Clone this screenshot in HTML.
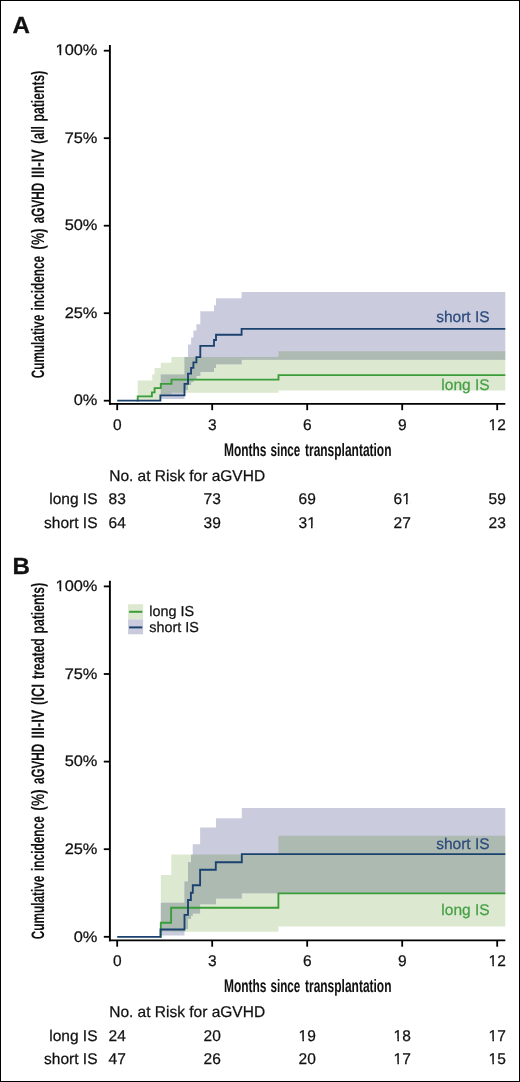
<!DOCTYPE html>
<html><head><meta charset="utf-8"><style>
html,body{margin:0;padding:0;background:#fff;}
body{width:520px;height:1082px;overflow:hidden;}
svg{display:block;will-change:transform;text-rendering:geometricPrecision;font-family:"Liberation Sans",sans-serif;}
</style></head><body>
<svg width="520" height="1082" viewBox="0 0 520 1082">
<rect x="0" y="0" width="520" height="1082" fill="#fff"/>
<g fill="#111">
<clipPath id="clipA"><path d="M137.7,380.4H152.3V400.7H137.7ZM152.3,374.2H154.6V400.7H152.3ZM154.6,368.0H160.8V400.7H154.6ZM160.8,362.7H171.5V394.5H160.8ZM171.5,356.9H278.5V392.7H171.5ZM278.5,351.3H505.3V390.6H278.5Z"/></clipPath>
<path d="M137.7,380.4H152.3V400.7H137.7ZM152.3,374.2H154.6V400.7H152.3ZM154.6,368.0H160.8V400.7H154.6ZM160.8,362.7H171.5V394.5H160.8ZM171.5,356.9H278.5V392.7H171.5ZM278.5,351.3H505.3V390.6H278.5Z" fill="#dce9d0"/><path d="M160.8,374.6H184.5V399.0H160.8ZM184.5,357.0H188.0V390.0H184.5ZM188.0,344.4H191.1V385.0H188.0ZM191.1,337.5H193.4V382.0H191.1ZM193.4,330.6H196.4V379.0H193.4ZM196.4,324.2H200.3V376.0H196.4ZM200.3,311.3H214.0V372.0H200.3ZM214.0,305.2H216.0V368.0H214.0ZM216.0,298.2H241.6V364.2H216.0ZM241.6,291.9H505.3V359.8H241.6Z" fill="#cbcbde"/><path d="M160.8,374.6H184.5V399.0H160.8ZM184.5,357.0H188.0V390.0H184.5ZM188.0,344.4H191.1V385.0H188.0ZM191.1,337.5H193.4V382.0H191.1ZM193.4,330.6H196.4V379.0H193.4ZM196.4,324.2H200.3V376.0H196.4ZM200.3,311.3H214.0V372.0H200.3ZM214.0,305.2H216.0V368.0H214.0ZM216.0,298.2H241.6V364.2H216.0ZM241.6,291.9H505.3V359.8H241.6Z" fill="#acbab2" clip-path="url(#clipA)"/>
<path d="M136.7,400.6H137.7V396.4H151.9V392.3H154.6V388.1H160.8V383.9H171.5V379.6H278.5V375.1H505.3" fill="none" stroke="#3a9d3a" stroke-width="1.85"/>
<path d="M117.2,400.6H160.4V395.3H184.5V383.8H188.0V373.6H191.1V367.9H193.4V362.4H196.4V357.1H200.3V345.8H214.0V340.0H216.0V334.7H241.6V328.9H505.3" fill="none" stroke="#1b426f" stroke-width="1.85"/>
<path d="M109.9,45.0V404.7" stroke="#000" stroke-width="1.9" fill="none"/>
<path d="M109,403.9H505.3" stroke="#000" stroke-width="1.7" fill="none"/>
<path d="M103.8,400.7H110" stroke="#000" stroke-width="1.8"/>
<text transform="translate(97.4,405.40) scale(1.07,1)" text-anchor="end" font-size="15.3" stroke="#111" stroke-width="0.25">0%</text>
<path d="M103.8,313.2H110" stroke="#000" stroke-width="1.8"/>
<text transform="translate(97.4,317.90) scale(1.07,1)" text-anchor="end" font-size="15.3" stroke="#111" stroke-width="0.25">25%</text>
<path d="M103.8,225.7H110" stroke="#000" stroke-width="1.8"/>
<text transform="translate(97.4,230.40) scale(1.07,1)" text-anchor="end" font-size="15.3" stroke="#111" stroke-width="0.25">50%</text>
<path d="M103.8,138.2H110" stroke="#000" stroke-width="1.8"/>
<text transform="translate(97.4,142.90) scale(1.07,1)" text-anchor="end" font-size="15.3" stroke="#111" stroke-width="0.25">75%</text>
<path d="M103.8,50.7H110" stroke="#000" stroke-width="1.8"/>
<text transform="translate(97.4,55.40) scale(1.07,1)" text-anchor="end" font-size="15.3" stroke="#111" stroke-width="0.25">100%</text>
<path d="M117.2,403.9V410.2" stroke="#000" stroke-width="1.8"/>
<text x="117.2" y="429.8" text-anchor="middle" font-size="15.5" stroke="#111" stroke-width="0.25">0</text>
<path d="M212.2,403.9V410.2" stroke="#000" stroke-width="1.8"/>
<text x="212.2" y="429.8" text-anchor="middle" font-size="15.5" stroke="#111" stroke-width="0.25">3</text>
<path d="M307.2,403.9V410.2" stroke="#000" stroke-width="1.8"/>
<text x="307.2" y="429.8" text-anchor="middle" font-size="15.5" stroke="#111" stroke-width="0.25">6</text>
<path d="M402.2,403.9V410.2" stroke="#000" stroke-width="1.8"/>
<text x="402.2" y="429.8" text-anchor="middle" font-size="15.5" stroke="#111" stroke-width="0.25">9</text>
<path d="M497.2,403.9V410.2" stroke="#000" stroke-width="1.8"/>
<text x="497.2" y="429.8" text-anchor="middle" font-size="15.5" stroke="#111" stroke-width="0.25">12</text>
<g transform="translate(0,455.79999999999995)"><text x="223.93" y="0" font-size="18.0" font-weight="bold" textLength="42.47" lengthAdjust="spacingAndGlyphs" stroke="#111" stroke-width="0.05">Months</text><text x="270.47" y="0" font-size="18.0" font-weight="bold" textLength="29.81" lengthAdjust="spacingAndGlyphs" stroke="#111" stroke-width="0.05">since</text><text x="304.99" y="0" font-size="18.0" font-weight="bold" textLength="86.52" lengthAdjust="spacingAndGlyphs" stroke="#111" stroke-width="0.05">transplantation</text></g>
<g transform="translate(43.9,0) rotate(-90)"><text x="-378.33" y="0" font-size="18.0" font-weight="bold" textLength="63.52" lengthAdjust="spacingAndGlyphs" stroke="#111" stroke-width="0.05">Cumulative</text><text x="-310.43" y="0" font-size="18.0" font-weight="bold" textLength="54.62" lengthAdjust="spacingAndGlyphs" stroke="#111" stroke-width="0.05">incidence</text><text x="-249.66" y="0" font-size="18.0" font-weight="bold" textLength="21.21" lengthAdjust="spacingAndGlyphs" stroke="#111" stroke-width="0.05">(%)</text><text x="-223.20" y="0" font-size="18.0" font-weight="bold" textLength="40.34" lengthAdjust="spacingAndGlyphs" stroke="#111" stroke-width="0.05">aGVHD</text><text x="-177.97" y="0" font-size="18.0" font-weight="bold" textLength="28.43" lengthAdjust="spacingAndGlyphs" stroke="#111" stroke-width="0.05">III-IV</text><text x="-143.69" y="0" font-size="18.0" font-weight="bold" textLength="17.65" lengthAdjust="spacingAndGlyphs" stroke="#111" stroke-width="0.05">(all</text><text x="-121.49" y="0" font-size="18.0" font-weight="bold" textLength="50.78" lengthAdjust="spacingAndGlyphs" stroke="#111" stroke-width="0.05">patients)</text></g>
<text x="12.6" y="32.9" font-size="23.3" font-weight="bold" stroke="#111" stroke-width="0.3" textLength="17.4" lengthAdjust="spacingAndGlyphs">A</text>
<text x="109.2" y="480.8" font-size="15.5" stroke="#111" stroke-width="0.25">No. at Risk for aGVHD</text>
<text x="97.5" y="504.0" text-anchor="end" font-size="15.5" stroke="#111" stroke-width="0.25">long IS</text>
<text x="117.2" y="504.0" text-anchor="middle" font-size="15.5" stroke="#111" stroke-width="0.25">83</text>
<text x="212.2" y="504.0" text-anchor="middle" font-size="15.5" stroke="#111" stroke-width="0.25">73</text>
<text x="307.2" y="504.0" text-anchor="middle" font-size="15.5" stroke="#111" stroke-width="0.25">69</text>
<text x="402.2" y="504.0" text-anchor="middle" font-size="15.5" stroke="#111" stroke-width="0.25">61</text>
<text x="497.2" y="504.0" text-anchor="middle" font-size="15.5" stroke="#111" stroke-width="0.25">59</text>
<text x="97.5" y="527.9" text-anchor="end" font-size="15.5" stroke="#111" stroke-width="0.25">short IS</text>
<text x="117.2" y="527.9" text-anchor="middle" font-size="15.5" stroke="#111" stroke-width="0.25">64</text>
<text x="212.2" y="527.9" text-anchor="middle" font-size="15.5" stroke="#111" stroke-width="0.25">39</text>
<text x="307.2" y="527.9" text-anchor="middle" font-size="15.5" stroke="#111" stroke-width="0.25">31</text>
<text x="402.2" y="527.9" text-anchor="middle" font-size="15.5" stroke="#111" stroke-width="0.25">27</text>
<text x="497.2" y="527.9" text-anchor="middle" font-size="15.5" stroke="#111" stroke-width="0.25">23</text>
<text x="489.6" y="322.4" text-anchor="end" font-size="15.5" fill="#2c4a7c" stroke="#2c4a7c" stroke-width="0.25">short IS</text>
<text x="489.6" y="390.4" text-anchor="end" font-size="15.5" fill="#46a046" stroke="#46a046" stroke-width="0.25">long IS</text>
<clipPath id="clipB"><path d="M160.8,875.0H171.3V931.5H160.8ZM171.3,854.5H278.4V931.8H171.3ZM278.4,835.8H505.3V926.4H278.4Z"/></clipPath>
<path d="M160.8,875.0H171.3V931.5H160.8ZM171.3,854.5H278.4V931.8H171.3ZM278.4,835.8H505.3V926.4H278.4Z" fill="#dce9d0"/><path d="M160.8,902.8H184.5V935.5H160.8ZM184.5,881.6H188.0V929.0H184.5ZM188.0,862.3H191.0V919.0H188.0ZM191.0,854.8H192.7V916.0H191.0ZM192.7,844.2H200.1V913.6H192.7ZM200.1,827.4H216.0V904.3H200.1ZM216.0,818.3H241.8V898.5H216.0ZM241.8,808.1H505.3V893.2H241.8Z" fill="#cbcbde"/><path d="M160.8,902.8H184.5V935.5H160.8ZM184.5,881.6H188.0V929.0H184.5ZM188.0,862.3H191.0V919.0H188.0ZM191.0,854.8H192.7V916.0H191.0ZM192.7,844.2H200.1V913.6H192.7ZM200.1,827.4H216.0V904.3H200.1ZM216.0,818.3H241.8V898.5H216.0ZM241.8,808.1H505.3V893.2H241.8Z" fill="#acbab2" clip-path="url(#clipB)"/>
<path d="M159.8,936.8H160.8V922.7H171.1V907.7H278.4V893.3H505.3" fill="none" stroke="#3a9d3a" stroke-width="1.85"/>
<path d="M117.2,936.8H160.5V929.5H184.5V914.8H188.0V900.0H190.9V892.7H192.8V885.2H200.1V869.7H215.8V862.2H241.8V854.1H505.3" fill="none" stroke="#1b426f" stroke-width="1.85"/>
<path d="M109.9,580.6999999999999V941.1999999999999" stroke="#000" stroke-width="1.9" fill="none"/>
<path d="M109,940.4H505.3" stroke="#000" stroke-width="1.7" fill="none"/>
<path d="M103.8,936.8H110" stroke="#000" stroke-width="1.8"/>
<text transform="translate(97.4,941.50) scale(1.07,1)" text-anchor="end" font-size="15.3" stroke="#111" stroke-width="0.25">0%</text>
<path d="M103.8,849.2H110" stroke="#000" stroke-width="1.8"/>
<text transform="translate(97.4,853.90) scale(1.07,1)" text-anchor="end" font-size="15.3" stroke="#111" stroke-width="0.25">25%</text>
<path d="M103.8,761.6H110" stroke="#000" stroke-width="1.8"/>
<text transform="translate(97.4,766.30) scale(1.07,1)" text-anchor="end" font-size="15.3" stroke="#111" stroke-width="0.25">50%</text>
<path d="M103.8,674.0H110" stroke="#000" stroke-width="1.8"/>
<text transform="translate(97.4,678.70) scale(1.07,1)" text-anchor="end" font-size="15.3" stroke="#111" stroke-width="0.25">75%</text>
<path d="M103.8,586.4H110" stroke="#000" stroke-width="1.8"/>
<text transform="translate(97.4,591.10) scale(1.07,1)" text-anchor="end" font-size="15.3" stroke="#111" stroke-width="0.25">100%</text>
<path d="M117.2,940.4V946.6999999999999" stroke="#000" stroke-width="1.8"/>
<text x="117.2" y="966.3" text-anchor="middle" font-size="15.5" stroke="#111" stroke-width="0.25">0</text>
<path d="M212.2,940.4V946.6999999999999" stroke="#000" stroke-width="1.8"/>
<text x="212.2" y="966.3" text-anchor="middle" font-size="15.5" stroke="#111" stroke-width="0.25">3</text>
<path d="M307.2,940.4V946.6999999999999" stroke="#000" stroke-width="1.8"/>
<text x="307.2" y="966.3" text-anchor="middle" font-size="15.5" stroke="#111" stroke-width="0.25">6</text>
<path d="M402.2,940.4V946.6999999999999" stroke="#000" stroke-width="1.8"/>
<text x="402.2" y="966.3" text-anchor="middle" font-size="15.5" stroke="#111" stroke-width="0.25">9</text>
<path d="M497.2,940.4V946.6999999999999" stroke="#000" stroke-width="1.8"/>
<text x="497.2" y="966.3" text-anchor="middle" font-size="15.5" stroke="#111" stroke-width="0.25">12</text>
<g transform="translate(0,992.3)"><text x="223.93" y="0" font-size="18.0" font-weight="bold" textLength="42.47" lengthAdjust="spacingAndGlyphs" stroke="#111" stroke-width="0.05">Months</text><text x="270.47" y="0" font-size="18.0" font-weight="bold" textLength="29.81" lengthAdjust="spacingAndGlyphs" stroke="#111" stroke-width="0.05">since</text><text x="304.99" y="0" font-size="18.0" font-weight="bold" textLength="86.52" lengthAdjust="spacingAndGlyphs" stroke="#111" stroke-width="0.05">transplantation</text></g>
<g transform="translate(43.9,0) rotate(-90)"><text x="-939.23" y="0" font-size="18.0" font-weight="bold" textLength="63.62" lengthAdjust="spacingAndGlyphs" stroke="#111" stroke-width="0.05">Cumulative</text><text x="-871.03" y="0" font-size="18.0" font-weight="bold" textLength="54.83" lengthAdjust="spacingAndGlyphs" stroke="#111" stroke-width="0.05">incidence</text><text x="-810.66" y="0" font-size="18.0" font-weight="bold" textLength="21.32" lengthAdjust="spacingAndGlyphs" stroke="#111" stroke-width="0.05">(%)</text><text x="-784.00" y="0" font-size="18.0" font-weight="bold" textLength="40.24" lengthAdjust="spacingAndGlyphs" stroke="#111" stroke-width="0.05">aGVHD</text><text x="-738.47" y="0" font-size="18.0" font-weight="bold" textLength="28.43" lengthAdjust="spacingAndGlyphs" stroke="#111" stroke-width="0.05">III-IV</text><text x="-704.93" y="0" font-size="18.0" font-weight="bold" textLength="20.97" lengthAdjust="spacingAndGlyphs" stroke="#111" stroke-width="0.05">(ICI</text><text x="-679.01" y="0" font-size="18.0" font-weight="bold" textLength="40.82" lengthAdjust="spacingAndGlyphs" stroke="#111" stroke-width="0.05">treated</text><text x="-633.49" y="0" font-size="18.0" font-weight="bold" textLength="50.67" lengthAdjust="spacingAndGlyphs" stroke="#111" stroke-width="0.05">patients)</text></g>
<text x="12.6" y="574.3" font-size="23.3" font-weight="bold" stroke="#111" stroke-width="0.3" textLength="17.4" lengthAdjust="spacingAndGlyphs">B</text>
<text x="109.2" y="1016.9" font-size="15.5" stroke="#111" stroke-width="0.25">No. at Risk for aGVHD</text>
<text x="97.5" y="1040.8" text-anchor="end" font-size="15.5" stroke="#111" stroke-width="0.25">long IS</text>
<text x="117.2" y="1040.8" text-anchor="middle" font-size="15.5" stroke="#111" stroke-width="0.25">24</text>
<text x="212.2" y="1040.8" text-anchor="middle" font-size="15.5" stroke="#111" stroke-width="0.25">20</text>
<text x="307.2" y="1040.8" text-anchor="middle" font-size="15.5" stroke="#111" stroke-width="0.25">19</text>
<text x="402.2" y="1040.8" text-anchor="middle" font-size="15.5" stroke="#111" stroke-width="0.25">18</text>
<text x="497.2" y="1040.8" text-anchor="middle" font-size="15.5" stroke="#111" stroke-width="0.25">17</text>
<text x="97.5" y="1064.0" text-anchor="end" font-size="15.5" stroke="#111" stroke-width="0.25">short IS</text>
<text x="117.2" y="1064.0" text-anchor="middle" font-size="15.5" stroke="#111" stroke-width="0.25">47</text>
<text x="212.2" y="1064.0" text-anchor="middle" font-size="15.5" stroke="#111" stroke-width="0.25">26</text>
<text x="307.2" y="1064.0" text-anchor="middle" font-size="15.5" stroke="#111" stroke-width="0.25">20</text>
<text x="402.2" y="1064.0" text-anchor="middle" font-size="15.5" stroke="#111" stroke-width="0.25">17</text>
<text x="497.2" y="1064.0" text-anchor="middle" font-size="15.5" stroke="#111" stroke-width="0.25">15</text>
<text x="489.6" y="849.3" text-anchor="end" font-size="15.5" fill="#2c4a7c" stroke="#2c4a7c" stroke-width="0.25">short IS</text>
<text x="489.6" y="914.6" text-anchor="end" font-size="15.5" fill="#46a046" stroke="#46a046" stroke-width="0.25">long IS</text>
<rect x="128.1" y="604.2" width="15" height="14.8" fill="#dce9d0"/>
<rect x="128.1" y="619.3" width="15" height="15" fill="#cbcbde"/>
<path d="M129.1,611.8H142.3" stroke="#3a9d3a" stroke-width="2"/>
<path d="M129.1,627.4H142.3" stroke="#1b426f" stroke-width="2"/>
<text x="149.3" y="616.2" font-size="14.4" stroke="#111" stroke-width="0.25">long IS</text>
<text x="149.3" y="631.8" font-size="14.4" stroke="#111" stroke-width="0.25">short IS</text>
</g>
<rect x="56.08" y="53.00" width="3.47" height="3.00" fill="#fff"/><rect x="61.19" y="53.00" width="3.34" height="3.00" fill="#fff"/><rect x="489.06" y="428.00" width="3.32" height="3.00" fill="#fff"/><rect x="493.95" y="428.00" width="3.20" height="3.00" fill="#fff"/><rect x="402.68" y="502.00" width="3.32" height="3.00" fill="#fff"/><rect x="407.57" y="502.00" width="3.20" height="3.00" fill="#fff"/><rect x="307.68" y="526.00" width="3.32" height="3.00" fill="#fff"/><rect x="312.57" y="526.00" width="3.20" height="3.00" fill="#fff"/><rect x="56.08" y="589.00" width="3.47" height="3.00" fill="#fff"/><rect x="61.19" y="589.00" width="3.34" height="3.00" fill="#fff"/><rect x="489.06" y="964.00" width="3.32" height="3.00" fill="#fff"/><rect x="493.95" y="964.00" width="3.20" height="3.00" fill="#fff"/><rect x="299.06" y="1039.00" width="3.32" height="3.00" fill="#fff"/><rect x="303.95" y="1039.00" width="3.20" height="3.00" fill="#fff"/><rect x="394.06" y="1039.00" width="3.32" height="3.00" fill="#fff"/><rect x="398.95" y="1039.00" width="3.20" height="3.00" fill="#fff"/><rect x="489.06" y="1039.00" width="3.32" height="3.00" fill="#fff"/><rect x="493.95" y="1039.00" width="3.20" height="3.00" fill="#fff"/><rect x="394.06" y="1062.00" width="3.32" height="3.00" fill="#fff"/><rect x="398.95" y="1062.00" width="3.20" height="3.00" fill="#fff"/><rect x="489.06" y="1062.00" width="3.32" height="3.00" fill="#fff"/><rect x="493.95" y="1062.00" width="3.20" height="3.00" fill="#fff"/>
<rect x="0.5" y="0.5" width="519" height="1081" fill="none" stroke="#000" stroke-width="1"/>
</svg>
</body></html>
